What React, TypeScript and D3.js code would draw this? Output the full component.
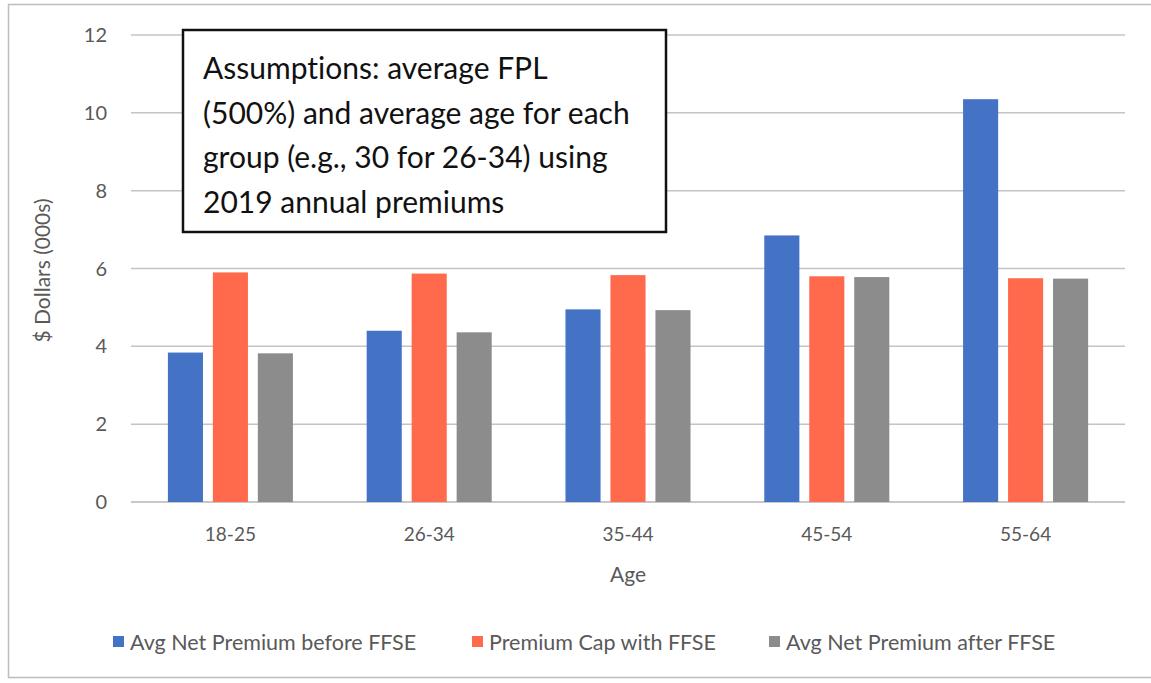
import React from "react";
import * as d3 from "d3";

const categories = ["18-25", "26-34", "35-44", "45-54", "55-64"];
const seriesNames = [
  "Avg Net Premium before FFSE",
  "Premium Cap with FFSE",
  "Avg Net Premium after FFSE",
];
const beforeFFSE = [3.84, 4.4, 4.95, 6.85, 10.35];
const capFFSE = [5.9, 5.87, 5.83, 5.8, 5.75];
const afterFFSE = [3.82, 4.36, 4.93, 5.78, 5.74];
const yTicks = [0, 2, 4, 6, 8, 10, 12];
const colors = ["#4472C4", "#FF6A4D", "#8C8C8C"];
const noteLines = [
  "Assumptions: average FPL",
  "(500%) and average age for each",
  "group (e.g., 30 for 26-34) using",
  "2019 annual premiums",
];

const W = 1151;
const H = 683;
const FONT = "Lato, 'Open Sans', sans-serif";

export default function App() {
  const series = [beforeFFSE, capFFSE, afterFFSE];
  const x = d3.scaleBand<string>().domain(categories).range([131, 1125]).paddingInner(0).paddingOuter(0);
  const inner = d3
    .scaleBand<number>()
    .domain([0, 1, 2])
    .range([0, x.bandwidth()])
    .paddingInner(0.22)
    .paddingOuter(0.82);
  const y = d3.scaleLinear().domain([0, 12]).range([502, 35]);
  const legendX = [113, 472, 769];

  return (
    <svg
      width={W}
      height={H}
      style={{ position: "absolute", left: 0, top: 0, background: "#fff", fontVariantLigatures: "none" }}
      fontFamily={FONT}
    >
      <rect x={8.5} y={4.5} width={1160} height={673} fill="none" stroke="#bdbdbd" strokeWidth={1.5} />
      {yTicks.map((t) => (
        <g key={t}>
          <line x1={x.range()[0]} x2={x.range()[1]} y1={y(t)} y2={y(t)} stroke={t === 0 ? "#b5b5b5" : "#c4c4c4"} strokeWidth={1.5} />
          <text x={107} y={y(t)} dy="0.35em" textAnchor="end" fontSize={20} fill="#595959">
            {t}
          </text>
        </g>
      ))}
      {categories.map((c, i) =>
        series.map((s, k) => (
          <rect
            key={c + k}
            x={(x(c) as number) + (inner(k) as number)}
            y={y(s[i])}
            width={inner.bandwidth()}
            height={y(0) - y(s[i])}
            fill={colors[k]}
          />
        ))
      )}
      {categories.map((c) => (
        <text key={c} x={(x(c) as number) + x.bandwidth() / 2} y={541} textAnchor="middle" fontSize={19} fill="#595959">
          {c}
        </text>
      ))}
      <text x={628} y={582} textAnchor="middle" fontSize={21} fill="#595959">
        Age
      </text>
      <text
        transform={`translate(50, ${y(6) + 2}) rotate(-90)`}
        textAnchor="middle"
        fontSize={21}
        fill="#595959"
      >
        $ Dollars (000s)
      </text>
      <rect x={183} y={30} width={483} height={202} fill="#fff" stroke="#111" strokeWidth={2.5} />
      {noteLines.map((l, i) => (
        <text key={i} x={203} y={79 + i * 44.5} fontSize={30} fill="#111">
          {l}
        </text>
      ))}
      {seriesNames.map((n, k) => (
        <g key={n}>
          <rect x={legendX[k]} y={636} width={11} height={11} fill={colors[k]} />
          <text x={legendX[k] + 17} y={642} dy="0.35em" fontSize={21.5} fill="#595959">
            {n}
          </text>
        </g>
      ))}
    </svg>
  );
}
